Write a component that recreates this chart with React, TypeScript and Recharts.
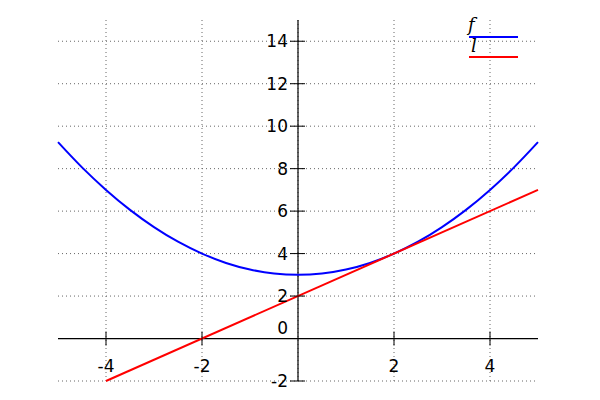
import React from 'react';
import {
  LineChart,
  Line,
  XAxis,
  YAxis,
  CartesianGrid,
  ReferenceLine,
  ReferenceDot,
  Legend,
} from 'recharts';

// values
const fPoints = [
  { x: -5, y: 9.25 },
  { x: -4.5, y: 8.06 },
  { x: -4, y: 7 },
  { x: -3.5, y: 6.06 },
  { x: -3, y: 5.25 },
  { x: -2.5, y: 4.56 },
  { x: -2, y: 4 },
  { x: -1.5, y: 3.56 },
  { x: -1, y: 3.25 },
  { x: -0.5, y: 3.06 },
  { x: 0, y: 3 },
  { x: 0.5, y: 3.06 },
  { x: 1, y: 3.25 },
  { x: 1.5, y: 3.56 },
  { x: 2, y: 4 },
  { x: 2.5, y: 4.56 },
  { x: 3, y: 5.25 },
  { x: 3.5, y: 6.06 },
  { x: 4, y: 7 },
  { x: 4.5, y: 8.06 },
  { x: 5, y: 9.25 },
];

const lPoints = [
  { x: -4, y: -2 },
  { x: 5, y: 7 },
];

const xTicks = [-4, -2, 2, 4];
const yTicks = [-2, 2, 4, 6, 8, 10, 12, 14];
const gridX = [-4, -2, 0, 2, 4];
const gridY = [-2, 0, 2, 4, 6, 8, 10, 12, 14];

const labelStyle: React.CSSProperties = {
  fontFamily: '"DejaVu Sans", sans-serif',
  fontSize: 17,
  fill: '#000',
};

function XTickMark({ cx, cy, value }: any) {
  return (
    <g>
      <line x1={cx} y1={cy - 7} x2={cx} y2={cy + 7} stroke="#000" strokeWidth={1} />
      <text x={cx} y={cy + 33} textAnchor="middle" style={labelStyle}>
        {value}
      </text>
    </g>
  );
}

function YTickMark({ cx, cy, value }: any) {
  return (
    <g>
      <line x1={cx - 8} y1={cy} x2={cx + 7} y2={cy} stroke="#000" strokeWidth={1} />
      <text x={cx - 10} y={cy + 6} textAnchor="end" style={labelStyle}>
        {value}
      </text>
    </g>
  );
}

function OriginLabel({ cx, cy }: any) {
  return (
    <text x={cx - 10} y={cy - 5} textAnchor="end" style={labelStyle}>
      0
    </text>
  );
}

function FnLegend() {
  const serif: React.CSSProperties = {
    fontFamily: '"DejaVu Serif", serif',
    fontStyle: 'italic',
    fontSize: 18,
    fill: '#000',
  };
  return (
    <svg width={60} height={45} style={{ overflow: 'visible', display: 'block' }}>
      <text x={2} y={13} style={serif}>f</text>
      <line x1={3} y1={19} x2={52} y2={19} stroke="#0000ff" strokeWidth={2} />
      <text x={5} y={34} style={serif}>l</text>
      <line x1={3} y1={39} x2={52} y2={39} stroke="#ff0000" strokeWidth={2} />
    </svg>
  );
}

export default function App() {
  return (
    <div style={{ position: 'absolute', left: 0, top: 0, width: 600, height: 400, background: '#fff' }}>
      <LineChart width={600} height={400} margin={{ top: 20, right: 62, bottom: 19, left: 58 }}>
        <XAxis type="number" dataKey="x" domain={[-5, 5]} ticks={gridX} hide allowDuplicatedCategory={false} />
        <YAxis type="number" dataKey="y" domain={[-2, 15]} ticks={gridY} hide />
        <CartesianGrid
          stroke="#666"
          strokeDasharray="1 3"
          verticalValues={gridX}
          horizontalValues={gridY}
        />
        <ReferenceLine x={0} stroke="#000" strokeWidth={1.2} />
        <ReferenceLine y={0} stroke="#000" strokeWidth={1.2} />
        {xTicks.map((t) => (
          <ReferenceDot
            key={`x${t}`}
            x={t}
            y={0}
            shape={(p: any) => <XTickMark {...p} value={t} />}
          />
        ))}
        {yTicks.map((t) => (
          <ReferenceDot
            key={`y${t}`}
            x={0}
            y={t}
            shape={(p: any) => <YTickMark {...p} value={t} />}
          />
        ))}
        <ReferenceDot x={0} y={0} shape={(p: any) => <OriginLabel {...p} />} />
        <Line
          data={fPoints}
          dataKey="y"
          name="f"
          type="monotone"
          stroke="#0000ff"
          strokeWidth={2}
          dot={false}
          isAnimationActive={false}
        />
        <Line
          data={lPoints}
          dataKey="y"
          name="l"
          type="linear"
          stroke="#ff0000"
          strokeWidth={2}
          dot={false}
          isAnimationActive={false}
        />
        <Legend
          layout="horizontal"
          verticalAlign="middle"
          align="center"
          content={() => <FnLegend />}
          wrapperStyle={{ position: 'absolute', left: 466, top: 18, width: 60, height: 45 }}
        />
      </LineChart>
    </div>
  );
}
